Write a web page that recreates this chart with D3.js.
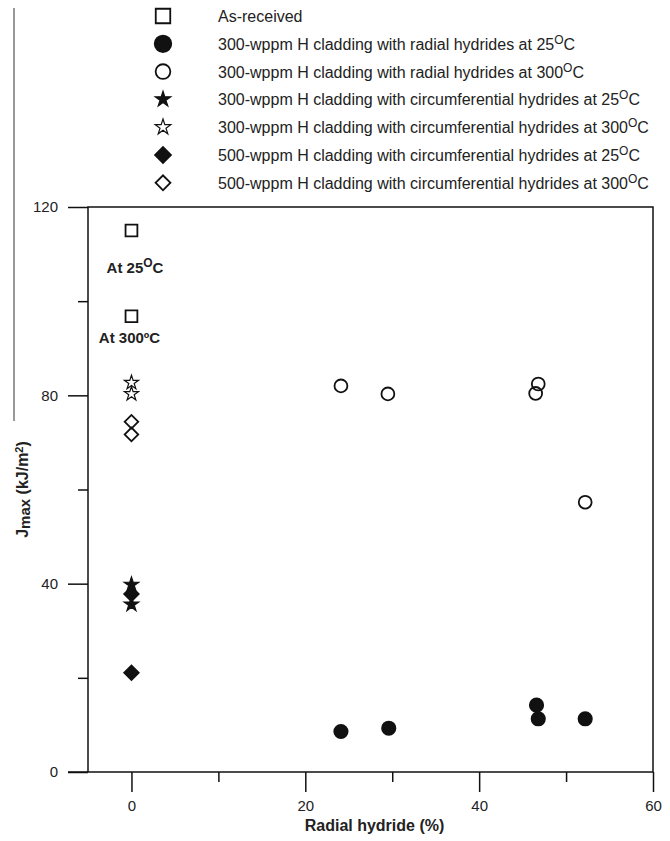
<!DOCTYPE html>
<html><head><meta charset="utf-8">
<script src="https://cdn.jsdelivr.net/npm/d3@7"></script>
<style>
html,body{margin:0;padding:0;background:#fff;}
svg{display:block;font-family:"Liberation Sans",Arial,sans-serif;}
</style></head>
<body>
<svg id="chart" width="670" height="841"></svg>
<script>
// ---- data ----
const xTicksMajor = [0, 20, 40, 60];
const xTicksMinor = [10, 30, 50];
const yTicksMajor = [0, 40, 80, 120];
const yTicksMinor = [20, 60, 100];

const asReceivedX = [0, 0];
const asReceivedY = [115, 96.8];
const radial25X = [24.1, 29.6, 46.6, 46.8, 52.2];
const radial25Y = [8.6, 9.3, 14.2, 11.3, 11.3];
const radial300X = [24.1, 29.5, 46.8, 46.5, 52.2];
const radial300Y = [82.0, 80.3, 82.4, 80.4, 57.3];
const circ300At25X = [0, 0];
const circ300At25Y = [39.8, 35.6];
const circ300At300X = [0, 0];
const circ300At300Y = [82.7, 80.3];
const circ500At25X = [0, 0];
const circ500At25Y = [37.8, 21.1];
const circ500At300X = [0, 0];
const circ500At300Y = [74.4, 71.7];

const legendLabels = [
  ["As-received", null, ""],
  ["300-wppm H cladding with radial hydrides at 25", "O", "C"],
  ["300-wppm H cladding with radial hydrides at 300", "O", "C"],
  ["300-wppm H cladding with circumferential hydrides at 25", "O", "C"],
  ["300-wppm H cladding with circumferential hydrides at 300", "O", "C"],
  ["500-wppm H cladding with circumferential hydrides at 25", "O", "C"],
  ["500-wppm H cladding with circumferential hydrides at 300", "O", "C"]
];

// ---- layout ----
const svg = d3.select("#chart");
const L = 88, R = 653, T = 207, B = 772;
const x = d3.scaleLinear().domain([-5, 60]).range([L, R]);
const y = d3.scaleLinear().domain([0, 120]).range([B, T]);
const ink = "#111";

// decorative left rule
svg.append("line").attr("x1", 14).attr("x2", 14).attr("y1", 8).attr("y2", 421)
  .attr("stroke", "#777").attr("stroke-width", 1.5);

// frame
svg.append("rect").attr("x", L).attr("y", T).attr("width", R - L).attr("height", B - T)
  .attr("fill", "none").attr("stroke", ink).attr("stroke-width", 1.5);

// axes
function styleAxis(g) {
  g.select(".domain").remove();
  g.selectAll(".tick line").attr("stroke", ink).attr("stroke-width", 1.5);
  g.selectAll(".tick text").attr("fill", "#222").attr("font-size", 15)
    .attr("font-family", "Liberation Sans, Arial, sans-serif");
}
svg.append("g").attr("transform", `translate(0,${B})`)
  .call(d3.axisBottom(x).tickValues(xTicksMajor).tickSize(20).tickPadding(8).tickFormat(d3.format("d")))
  .call(styleAxis);
svg.append("g").attr("transform", `translate(0,${B})`)
  .call(d3.axisBottom(x).tickValues(xTicksMinor).tickSize(10).tickFormat(""))
  .call(styleAxis);
svg.append("g").attr("transform", `translate(${L},0)`)
  .call(d3.axisLeft(y).tickValues(yTicksMajor).tickSize(20).tickPadding(10).tickFormat(d3.format("d")))
  .call(styleAxis);
svg.append("g").attr("transform", `translate(${L},0)`)
  .call(d3.axisLeft(y).tickValues(yTicksMinor).tickSize(10).tickFormat(""))
  .call(styleAxis);
svg.append("line").attr("x1", 68).attr("x2", L).attr("y1", B).attr("y2", B).attr("stroke", ink).attr("stroke-width", 1.5);

// axis titles
svg.append("text").attr("x", (L + R) / 2 + 4).attr("y", 831).attr("text-anchor", "middle")
  .attr("font-weight", "bold").attr("font-size", 16).attr("fill", "#222").text("Radial hydride (%)");
const yt = svg.append("text").attr("transform", `translate(28,${(T + B) / 2}) rotate(-90)`)
  .attr("text-anchor", "middle").attr("font-weight", "bold").attr("font-size", 16).attr("fill", "#222");
yt.append("tspan").text("J");
yt.append("tspan").attr("dy", 2).attr("font-size", 15).text("max");
yt.append("tspan").attr("dy", -2).text(" (kJ/m");
yt.append("tspan").attr("dy", -5).attr("font-size", 11).text("2");
yt.append("tspan").attr("dy", 5).text(")");

// symbols
const sym = (type, size) => d3.symbol().type(type).size(size)();
const markers = {
  square:      {path: s => sym(d3.symbolSquare, s), fill: "none", rot: 0},
  circleFill:  {path: s => sym(d3.symbolCircle, s), fill: ink, rot: 0},
  circleOpen:  {path: s => sym(d3.symbolCircle, s), fill: "none", rot: 0},
  starFill:    {path: s => sym(d3.symbolStar, s), fill: ink, rot: 0},
  starOpen:    {path: s => sym(d3.symbolStar, s), fill: "none", rot: 0},
  diamondFill: {path: s => sym(d3.symbolSquare, s), fill: ink, rot: 45},
  diamondOpen: {path: s => sym(d3.symbolSquare, s), fill: "none", rot: 45}
};
const plotSize = {square: 140, circleFill: 140, circleOpen: 130, starFill: 66, starOpen: 62, diamondFill: 105, diamondOpen: 92};
const legendSize = {square: 210, circleFill: 215, circleOpen: 170, starFill: 75, starOpen: 75, diamondFill: 125, diamondOpen: 110};
const series = [
  {m: "square", xs: asReceivedX, ys: asReceivedY},
  {m: "circleFill", xs: radial25X, ys: radial25Y},
  {m: "circleOpen", xs: radial300X, ys: radial300Y},
  {m: "starFill", xs: circ300At25X, ys: circ300At25Y},
  {m: "starOpen", xs: circ300At300X, ys: circ300At300Y},
  {m: "diamondFill", xs: circ500At25X, ys: circ500At25Y},
  {m: "diamondOpen", xs: circ500At300X, ys: circ500At300Y}
];

function drawMarker(g, m, cx, cy, size) {
  const mk = markers[m];
  g.append("path").attr("d", mk.path(size))
    .attr("transform", `translate(${cx},${cy}) rotate(${mk.rot})`)
    .attr("fill", mk.fill).attr("stroke", ink)
    .attr("stroke-width", m.startsWith("star") ? 1.2 : 1.8);
}

const pg = svg.append("g");
series.forEach(s => {
  s.xs.forEach((xv, i) => drawMarker(pg, s.m, x(xv), y(s.ys[i]), plotSize[s.m]));
});

// annotations
const a1 = svg.append("text").attr("x", 135).attr("y", 273).attr("text-anchor", "middle")
  .attr("font-weight", "bold").attr("font-size", 15).attr("fill", "#222");
a1.append("tspan").text("At 25");
a1.append("tspan").attr("dy", -6).attr("font-size", 12).text("O");
a1.append("tspan").attr("dy", 6).text("C");
svg.append("text").attr("x", 129.5).attr("y", 343).attr("text-anchor", "middle")
  .attr("font-weight", "bold").attr("font-size", 15).attr("fill", "#222").text("At 300ºC");

// legend
const lg = svg.append("g");
const legY0 = 16, legDy = 27.8;
series.forEach((s, i) => {
  const cy = legY0 + i * legDy;
  drawMarker(lg, s.m, 163, cy, legendSize[s.m]);
  const lab = legendLabels[i];
  const t = lg.append("text").attr("x", 218).attr("y", cy + 6).attr("font-size", 16).attr("fill", "#222");
  t.append("tspan").text(lab[0]);
  if (lab[1]) {
    t.append("tspan").attr("dy", -6).attr("font-size", 12).text(lab[1]);
    t.append("tspan").attr("dy", 6).text(lab[2]);
  }
});
</script>
</body></html>
